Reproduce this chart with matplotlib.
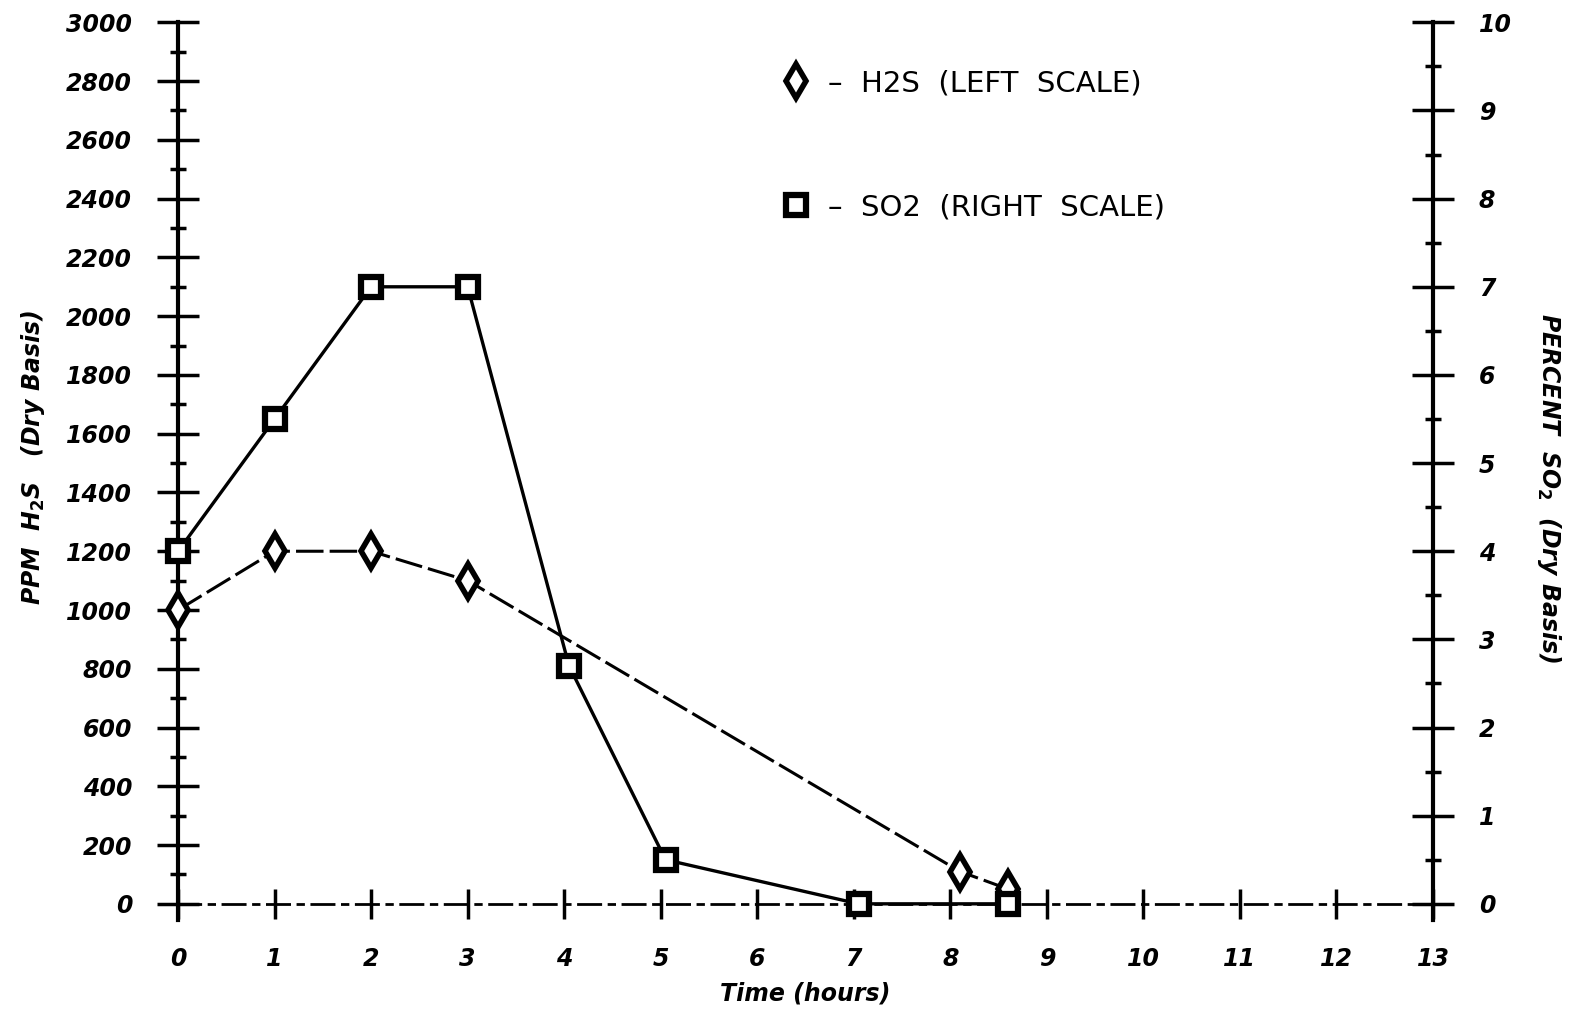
import matplotlib.pyplot as plt
from matplotlib.lines import Line2D

# H2S, ppm (left scale)
h2s_time = [0, 1, 2, 3, 8.1, 8.6]
h2s_ppm = [1000, 1200, 1200, 1100, 110, 50]

# SO2, percent (right scale)
so2_time = [0, 1, 2, 3, 4.05, 5.05, 7.05, 8.6]
so2_pct = [4.0, 5.5, 7.0, 7.0, 2.7, 0.5, 0.0, 0.0]

x_ticks = list(range(0, 14))
left_ticks = list(range(0, 3001, 200))
right_ticks = list(range(0, 11))

tick_font = dict(fontsize=17, fontweight="bold", fontstyle="italic")

fig = plt.figure(figsize=(15.73, 10.16), dpi=100)
ax = fig.add_axes([0.1132, 0.0945, 0.7978, 0.8835])
ax2 = ax.twinx()

ax.set_xlim(0, 13)
ax.set_ylim(-55, 3000)
ax2.set_ylim(-55 / 300, 10)

# H2S
ax.plot(h2s_time, h2s_ppm, color="black", lw=2.2, ls=(0, (9, 2)),
        marker="d", ms=17, mfc="white", mec="black", mew=4, zorder=5, clip_on=False)
# SO2
ax2.plot(so2_time, so2_pct, color="black", lw=2.4,
         marker="s", ms=14, mfc="white", mec="black", mew=4.5, zorder=5, clip_on=False)

# spines
for a in (ax, ax2):
    a.spines["top"].set_visible(False)
ax.spines["right"].set_visible(False)
ax2.spines["left"].set_visible(False)
ax2.spines["bottom"].set_visible(False)
ax.spines["left"].set_linewidth(3)
ax2.spines["right"].set_linewidth(3)
ax.spines["bottom"].set_position(("data", 0))
ax.spines["bottom"].set_linewidth(2)
ax.spines["bottom"].set_linestyle((0, (8, 3, 2, 3)))

# ticks
ax.set_xticks(x_ticks)
ax.set_xticklabels([str(t) for t in x_ticks], **tick_font)
ax.tick_params(axis="x", direction="inout", length=22, width=2.5, pad=20)

ax.set_yticks(left_ticks)
ax.set_yticks(list(range(100, 3000, 200)), minor=True)
ax.set_yticklabels([str(t) for t in left_ticks], **tick_font)
ax.tick_params(axis="y", which="major", direction="inout", length=30, width=2.5, pad=18)
ax.tick_params(axis="y", which="minor", direction="inout", length=12, width=2.5)

ax2.set_yticks(right_ticks)
ax2.set_yticks([t + 0.5 for t in right_ticks[:-1]], minor=True)
ax2.set_yticklabels([str(t) for t in right_ticks], **tick_font)
ax2.tick_params(axis="y", which="major", direction="inout", length=30, width=2.5, pad=18)
ax2.tick_params(axis="y", which="minor", direction="inout", length=12, width=2.5)

# labels
ax.set_xlabel("Time (hours)", fontsize=17, fontweight="bold", fontstyle="italic", labelpad=8)
fig.text(0.021, 0.55, "PPM  H$_\\mathbf{2}$S   (Dry Basis)", rotation=90, ha="center", va="center",
         fontsize=17, fontweight="bold", fontstyle="italic")
fig.text(0.985, 0.52, "PERCENT  SO$_\\mathbf{2}$  (Dry Basis)", rotation=-90, ha="center", va="center",
         fontsize=17, fontweight="bold", fontstyle="italic")

# legend
handles = [
    Line2D([], [], ls="none", marker="d", ms=17, mfc="white", mec="black", mew=4),
    Line2D([], [], ls="none", marker="s", ms=14, mfc="white", mec="black", mew=4.5),
]
labels = ["–  H2S  (LEFT  SCALE)", "–  SO2  (RIGHT  SCALE)"]
ax.legend(handles, labels, loc="upper left", bbox_to_anchor=(0.46, 0.977), frameon=False,
          fontsize=21, labelspacing=3.3, handlelength=1.0, handletextpad=0.6)

fig.savefig("out.png", dpi=100)
